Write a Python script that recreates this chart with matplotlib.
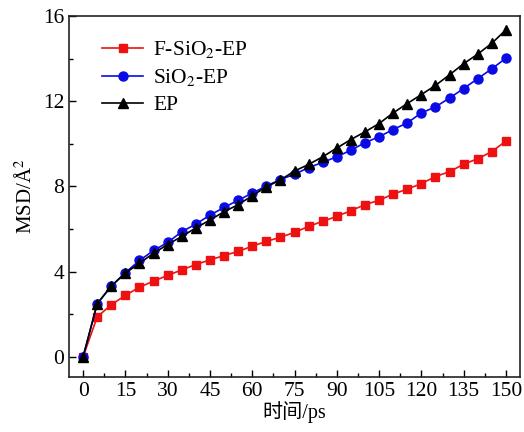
import matplotlib
matplotlib.use("Agg")
import matplotlib.pyplot as plt
from matplotlib.ticker import MultipleLocator

plt.rcParams['font.family'] = ['Liberation Serif', 'Noto Sans CJK SC']
plt.rcParams['mathtext.fontset'] = 'stix'

time_ps = list(range(0, 155, 5))
f_sio2_ep = [0, 1.87, 2.45, 2.88, 3.27, 3.55, 3.82, 4.08, 4.33, 4.55, 4.75, 4.95, 5.19, 5.42, 5.61,
             5.84, 6.12, 6.36, 6.59, 6.86, 7.14, 7.35, 7.64, 7.87, 8.13, 8.46, 8.69, 9.04, 9.3, 9.63, 10.13]
sio2_ep = [0, 2.49, 3.32, 3.95, 4.52, 4.99, 5.37, 5.87, 6.23, 6.65, 7.01, 7.35, 7.68, 8.02, 8.32,
           8.57, 8.88, 9.13, 9.39, 9.7, 10.05, 10.33, 10.67, 10.98, 11.45, 11.73, 12.15, 12.59, 13.06, 13.52, 14.02]
ep = [0, 2.49, 3.32, 3.93, 4.39, 4.86, 5.27, 5.65, 6.05, 6.42, 6.81, 7.14, 7.56, 7.98, 8.3,
      8.72, 9.03, 9.39, 9.8, 10.2, 10.56, 10.95, 11.45, 11.89, 12.31, 12.74, 13.24, 13.76, 14.21, 14.72, 15.35]

fig = plt.figure(figsize=(5.24, 4.32), dpi=100)
ax = fig.add_axes([0.1317, 0.1273, 0.8607, 0.8357])

ax.plot(time_ps, f_sio2_ep, color='#ee1111', marker='s', markersize=6, lw=1.2, label='F-SiO$_2$-EP')
ax.plot(time_ps, sio2_ep, color='#0a0ae6', marker='o', markersize=6.5, lw=1.2, label='SiO$_2$-EP')
ax.plot(time_ps, ep, color='black', marker='^', markersize=7, lw=1.2, label='EP')

ax.set_xlim(-5, 155)
ax.set_ylim(-0.95, 16)
ax.xaxis.set_major_locator(MultipleLocator(15))
ax.xaxis.set_minor_locator(MultipleLocator(7.5))
ax.yaxis.set_major_locator(MultipleLocator(4))
ax.yaxis.set_minor_locator(MultipleLocator(2))
ax.tick_params(which='both', direction='in', top=False, right=False, labelsize=15.5, width=1.0)
ax.tick_params(which='major', length=5)
ax.tick_params(which='minor', length=3)
for s in ax.spines.values():
    s.set_linewidth(1.2)
    s.set_color('#222222')

ax.set_xlabel('时间/ps', fontsize=14.5, labelpad=0)
ax.set_ylabel('MSD/Å$^{2}$', fontsize=15, labelpad=4)

ax.legend(loc='upper left', bbox_to_anchor=(0.055, 0.96), frameon=False, fontsize=15.5,
          handlelength=1.9, labelspacing=0.33, handletextpad=0.45, borderaxespad=0)

fig.savefig('out.png', dpi=100)
